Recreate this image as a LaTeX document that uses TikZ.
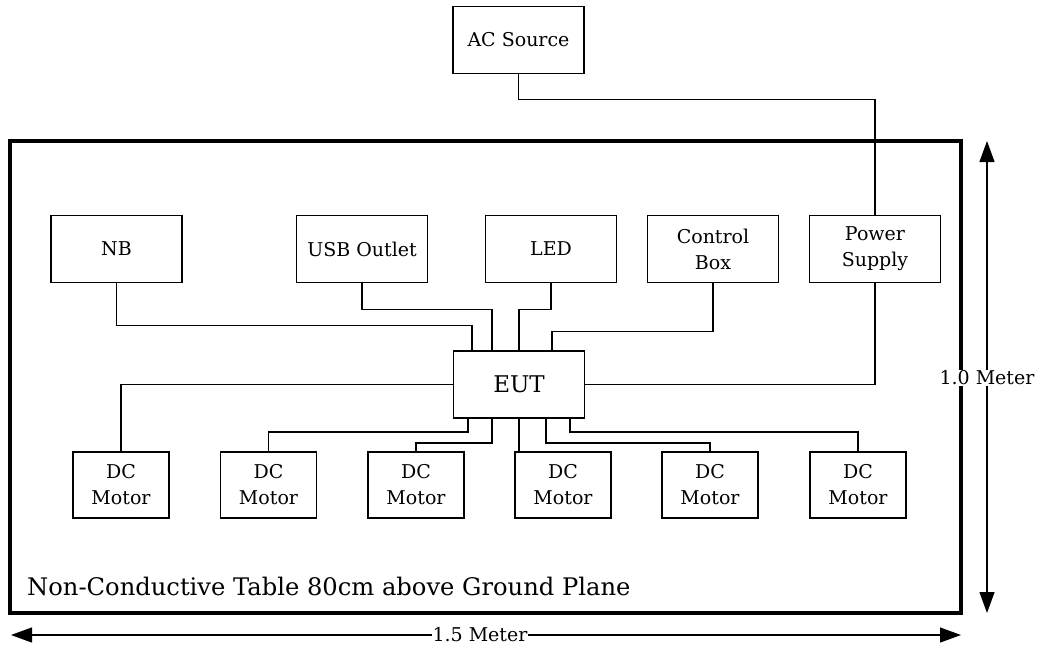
\documentclass[tikz,border=0pt]{standalone}
\usepackage{fontspec}
\setmainfont{DejaVu Serif}
\usetikzlibrary{arrows.meta}
\tikzset{
  box/.style={draw, line width=1.7pt, rectangle, inner sep=0pt, minimum width=131pt, minimum height=67pt, align=center, font=\fontsize{19}{26}\selectfont},
  motor/.style={box, minimum width=96pt, minimum height=66pt},
  wire/.style={line width=1.3pt},
  dim/.style={line width=1.2pt, {Triangle[length=21pt,width=15pt]}-{Triangle[length=21pt,width=15pt]}},
  dimlabel/.style={fill=white, inner sep=1pt, font=\fontsize{19}{22}\selectfont}
}
\begin{document}
\begin{tikzpicture}[x=1pt,y=-1pt]
\useasboundingbox (0,0) rectangle (1040,654);
% table
\draw[line width=4pt] (10,141) rectangle (961,613);
\node[anchor=west, inner sep=0pt, font=\fontsize{24.2}{28}\selectfont] (tbl) at (27,586) {Non-Conductive Table 80cm above Ground Plane};
% boxes
\node[box] (ac) at (518.5,40) {AC Source};
\node[box] (nb) at (116.5,249) {NB};
\node[box] (usb) at (362,249) {USB Outlet};
\node[box] (led) at (551,249) {LED};
\node[box] (ctrl) at (713,249) {Control\\Box};
\node[box] (ps) at (875,249) {Power\\Supply};
\node[box, font=\fontsize{23}{27}\selectfont] (eut) at (519,384.5) {EUT};
\node[motor] (m1) at (121,485) {DC\\Motor};
\node[motor] (m2) at (268.5,485) {DC\\Motor};
\node[motor] (m3) at (416,485) {DC\\Motor};
\node[motor] (m4) at (563,485) {DC\\Motor};
\node[motor] (m5) at (710,485) {DC\\Motor};
\node[motor] (m6) at (858,485) {DC\\Motor};
% wires
\draw[wire] (ac.south) -- ++(0,25) -| (ps.north);
\draw[wire] (nb.south) -- ++(0,42) -| ([xshift=-47pt]eut.north);
\draw[wire] (usb.south) -- ++(0,26) -| ([xshift=-27pt]eut.north);
\draw[wire] (led.south) -- ++(0,26) -| (eut.north);
\draw[wire] (ctrl.south) -- ++(0,48) -| ([xshift=33pt]eut.north);
\draw[wire] (ps.south) |- (eut.east);
\draw[wire] (eut.west) -| (m1.north);
\draw[wire] ([xshift=-51pt]eut.south) -- ++(0,13) -| (m2.north);
\draw[wire] ([xshift=-27pt]eut.south) -- ++(0,24) -| (m3.north);
\draw[wire] (eut.south) -- (eut.south |- m4.north);
\draw[wire] ([xshift=27pt]eut.south) -- ++(0,24) -| (m5.north);
\draw[wire] ([xshift=51pt]eut.south) -- ++(0,13) -| (m6.north);
% dimensions
\coordinate (vt) at (987,141);
\coordinate (vb) at (987,613);
\coordinate (hl) at (11,635);
\coordinate (hr) at (961,635);
\draw[dim] (vt) -- (vb);
\node[dimlabel] (vlab) at (987,378) {1.0 Meter};
\draw[dim] (hl) -- (hr);
\node[dimlabel] (hlab) at (480,635) {1.5 Meter};
\end{tikzpicture}
\end{document}
